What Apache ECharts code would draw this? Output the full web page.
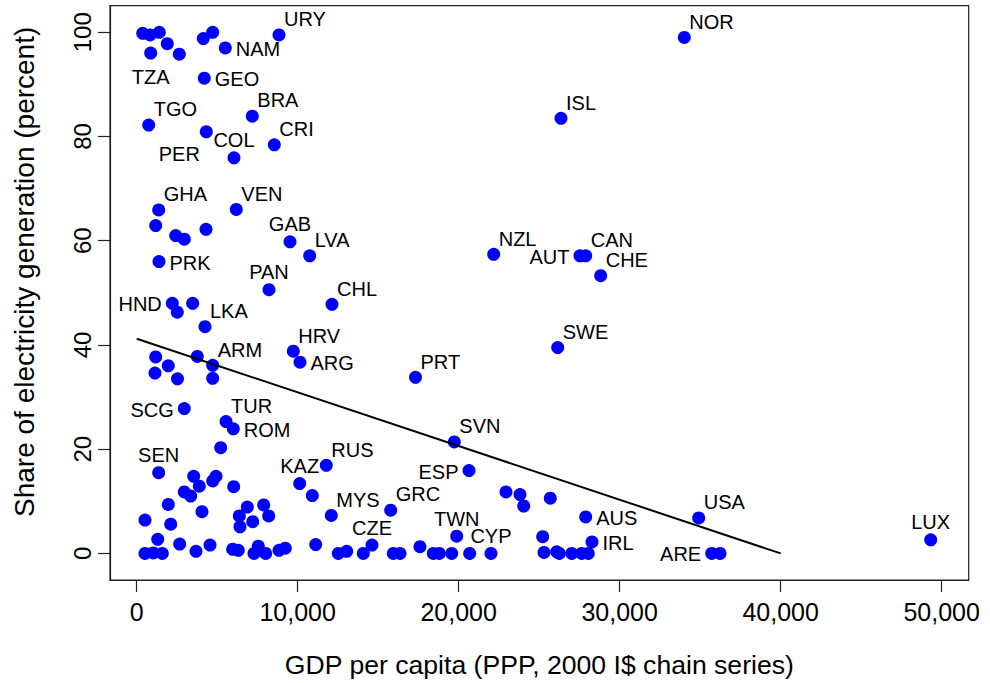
<!DOCTYPE html>
<html>
<head>
<meta charset="utf-8">
<script src="https://cdn.jsdelivr.net/npm/echarts@6/dist/echarts.min.js"></script>
<style>
html,body{margin:0;padding:0;background:#fff;}
#chart{width:990px;height:683px;}
</style>
</head>
<body>
<div id="chart"></div>
<script>
// ---- data ----
const countries = ["","","","","TZA","","","","NAM","URY",
  "GEO","TGO","PER","BRA","CRI","COL","GHA","VEN","","",
  "","","PRK","GAB","LVA","PAN","CHL","HND","","",
  "LKA","HRV","ARG","ARM","","","","","","",
  "PRT","SCG","TUR","ROM","","SEN","RUS","KAZ","","MYS",
  "GRC","CZE","","","","","","","","",
  "","","","","","","","","","",
  "","","","","","","","","","",
  "","","","","","","","","","",
  "","","","","CYP","SVN","ESP","","","",
  "","AUS","TWN","IRL","USA","ARE","","","","",
  "","","","","LUX","NZL","AUT","CAN","CHE","SWE",
  "NOR","ISL"];
const gdpPerCapita = [373,826,1404,1901,870,2646,4137,4720,5503,8839,
  4199,745,4323,7180,8547,6043,1366,6186,1180,2422,
  2957,4304,1385,9522,10745,8217,12130,2211,2522,3478,
  4242,9727,10143,4720,3764,1180,1963,1137,2534,4720,
  17317,2957,5547,6000,5217,1366,11776,10124,10907,12087,
  15776,14615,3540,4925,4720,3888,2957,3354,6025,1963,
  4056,516,2112,6870,7888,8199,6373,7205,6416,1304,
  516,1031,1590,2671,3683,4553,5963,6311,7553,7286,
  8012,8839,9230,11118,12522,13043,14075,15938,16354,17596,
  18422,18795,19565,20683,22006,19727,20640,22938,23807,24037,
  25689,27888,19876,28280,34907,35714,36230,25217,25298,26087,
  26248,27019,27640,28050,49317,22174,27534,27888,28820,26149,
  34012,26354];
const hydroShare = [99.8,99.5,100.0,97.8,96.0,95.8,98.8,100.0,97.0,99.5,
  91.2,82.2,80.9,83.9,78.4,75.9,65.9,66.0,62.9,61.0,
  60.3,62.2,56.0,59.8,57.1,50.6,47.8,48.0,46.3,48.0,
  43.5,38.8,36.7,36.1,37.8,37.7,36.0,34.6,33.5,33.6,
  33.8,27.8,25.3,23.9,20.3,15.5,16.9,13.4,11.1,7.3,
  8.3,1.6,14.8,14.8,13.9,12.9,11.8,11.0,12.8,9.4,
  8.0,6.4,5.6,8.9,9.3,7.2,7.2,6.1,5.1,2.7,
  0,0.1,0,1.8,0.4,1.6,0.8,0.6,1.4,0,
  0,0.6,1.0,1.7,0,0.4,0,0,0,1.3,
  0,0,0,0,0,21.4,15.9,11.8,11.3,9.1,
  10.6,7.0,3.3,2.2,6.8,0,0,3.2,0.2,0.3,
  0,0,0,0,2.6,57.4,57.1,57.1,53.3,39.5,
  99.0,83.5];
const fitX = [0, 40000];
const fitY = [41.2, 0];
const xTicks = [0, 10000, 20000, 30000, 40000, 50000];
const yTicks = [0, 20, 40, 60, 80, 100];

// ---- label placement (style) ----
const placement = {
  URY:'tr',BRA:'tr',CRI:'tr',TGO:'tr',GHA:'tr',VEN:'tr',LVA:'tr',CHL:'tr',LKA:'tr',HRV:'tr',
  PRT:'tr',TUR:'tr',RUS:'tr',MYS:'tr',GRC:'tr',SVN:'tr',USA:'tr',NZL:'tr',CAN:'tr',CHE:'tr',
  SWE:'tr',NOR:'tr',ISL:'tr',ARM:'tr',
  GAB:'t',PAN:'t',KAZ:'t',CZE:'t',TWN:'t',CYP:'t',LUX:'t',COL:'t',SEN:'t',
  NAM:'r',GEO:'r',PRK:'r',ARG:'r',ROM:'r',AUS:'r',IRL:'r',
  HND:'l',SCG:'l',ESP:'l',AUT:'l',ARE:'l',
  TZA:'b',PER:'bl'
};
const placeStyle = {
  tr:{position:[11.5,-9.2],align:'left',verticalAlign:'middle'},
  t:{position:[6.5,-11],align:'center',verticalAlign:'middle'},
  r:{position:[17,7.5],align:'left',verticalAlign:'middle'},
  l:{position:[-4,7.5],align:'right',verticalAlign:'middle'},
  b:{position:[6.5,30.5],align:'center',verticalAlign:'middle'},
  bl:{position:[-20.5,28.5],align:'center',verticalAlign:'middle'}
};

const FONT = '"Liberation Sans", Arial, Helvetica, sans-serif';
const points = gdpPerCapita.map((g, i) => {
  const code = countries[i];
  const item = {value:[g, hydroShare[i]], name: code};
  if (code) {
    const ps = placeStyle[placement[code]];
    item.label = {show:true, formatter: code, position: ps.position, align: ps.align,
      verticalAlign: ps.verticalAlign, fontSize:20, color:'#000', fontFamily: FONT};
  }
  return item;
});

const chart = echarts.init(document.getElementById('chart'), null, {renderer:'svg'});
chart.setOption({
  animation:false,
  backgroundColor:'#fff',
  textStyle:{fontFamily:FONT},
  grid:{left:110, right:21.3, top:5.7, bottom:103, show:true, borderColor:'#222', borderWidth:1.2, backgroundColor:'transparent'},
  xAxis:{
    type:'value', min:-1658, max:51677,
    axisLine:{show:true, onZero:false, lineStyle:{color:'#222', width:1.2}},
    axisTick:{show:true, customValues:xTicks, length:12, lineStyle:{color:'#222', width:1.2}},
    axisLabel:{customValues:xTicks, formatter:v => Number(v).toLocaleString('en-US'), fontSize:25, color:'#000', margin:19, fontFamily:FONT},
    splitLine:{show:false},
    name:'GDP per capita (PPP, 2000 I$ chain series)', nameLocation:'middle', nameGap:71,
    nameTextStyle:{fontSize:26.6, color:'#000', fontFamily:FONT}
  },
  yAxis:{
    type:'value', min:-5.1, max:105.1,
    axisLine:{show:true, onZero:false, lineStyle:{color:'#222', width:1.2}},
    axisTick:{show:true, customValues:yTicks, length:12, lineStyle:{color:'#222', width:1.2}},
    axisLabel:{customValues:yTicks, rotate:90, fontSize:24, color:'#000', margin:16, fontFamily:FONT},
    splitLine:{show:false},
    name:'Share of electricity generation (percent)', nameLocation:'middle', nameGap:72,
    nameTextStyle:{fontSize:28, color:'#000', fontFamily:FONT, padding:[0,0,0,42]}
  },
  series:[
    {type:'scatter', data:points, symbol:'circle', symbolSize:13, itemStyle:{color:'#0000FF', opacity:1}, z:2},
    {type:'line', data:fitX.map((x,i)=>[x, fitY[i]]), showSymbol:false, symbol:'none',
     lineStyle:{color:'#000', width:2}, z:3}
  ]
});
</script>
</body>
</html>
